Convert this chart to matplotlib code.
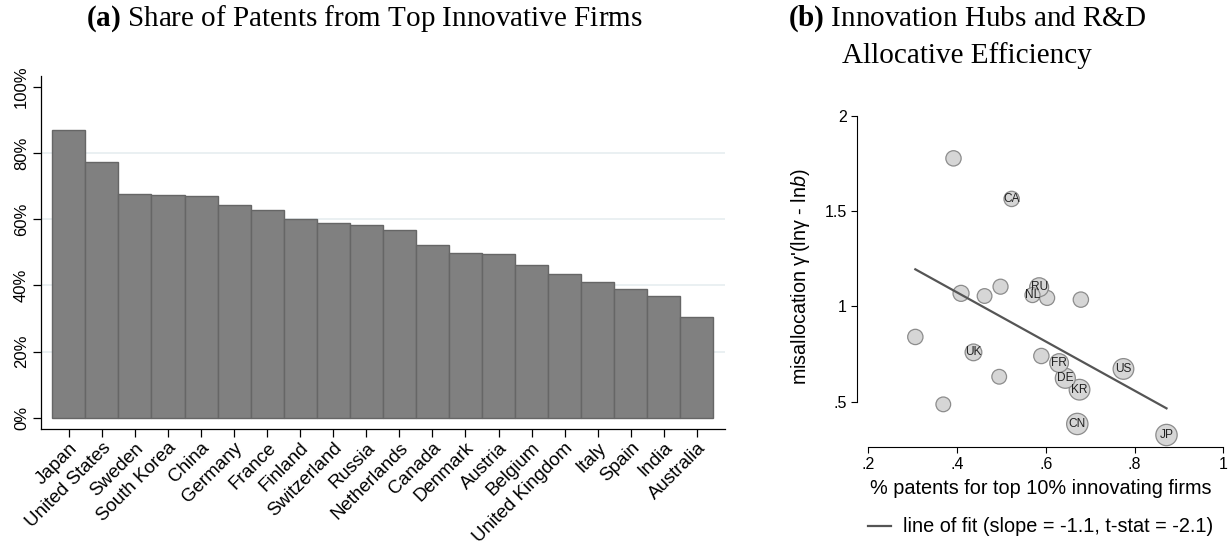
import matplotlib
matplotlib.use('Agg')
import matplotlib.pyplot as plt
import numpy as np

# ---------------- data ----------------
countries = ["Japan", "United States", "Sweden", "South Korea", "China", "Germany",
             "France", "Finland", "Switzerland", "Russia", "Netherlands", "Canada",
             "Denmark", "Austria", "Belgium", "United Kingdom", "Italy", "Spain",
             "India", "Australia"]
share_top = [0.871, 0.772, 0.677, 0.672, 0.669, 0.642, 0.627, 0.602, 0.588, 0.582,
             0.569, 0.521, 0.497, 0.494, 0.461, 0.435, 0.409, 0.390, 0.367, 0.304]

codes = ["JP", "US", "", "KR", "CN", "DE", "FR", "", "", "RU", "NL", "CA",
         "", "", "", "UK", "", "", "", ""]
scatter_x = [0.872, 0.775, 0.679, 0.676, 0.671, 0.644, 0.630, 0.603, 0.590, 0.585,
             0.570, 0.523, 0.498, 0.495, 0.462, 0.437, 0.409, 0.392, 0.369, 0.306]
misalloc = [0.324, 0.671, 1.035, 0.562, 0.382, 0.622, 0.702, 1.044, 0.739, 1.100,
            1.059, 1.564, 1.103, 0.630, 1.054, 0.758, 1.068, 1.777, 0.485, 0.839]
weights = [2.02, 1.90, 1.04, 1.90, 2.02, 1.78, 1.55, 1.00, 1.04, 1.60,
           1.00, 1.04, 1.00, 0.96, 0.96, 1.24, 1.14, 1.04, 0.96, 1.04]
fit_slope = -1.29
fit_intercept = 1.589

left_yticks = [0, 0.2, 0.4, 0.6, 0.8, 1.0]
left_yticklabels = ["0%", "20%", "40%", "60%", "80%", "100%"]
grid_levels = [0.2, 0.4, 0.6, 0.8]
right_xticks = [0.2, 0.4, 0.6, 0.8, 1.0]
right_xticklabels = [".2", ".4", ".6", ".8", "1"]
right_yticks = [0.5, 1.0, 1.5, 2.0]
right_yticklabels = [".5", "1", "1.5", "2"]

# ---------------- style ----------------
plt.rcParams['font.family'] = ['Liberation Sans', 'DejaVu Sans']
plt.rcParams['mathtext.fontset'] = 'custom'
plt.rcParams['mathtext.bf'] = 'Liberation Serif:bold'
plt.rcParams['mathtext.rm'] = 'Liberation Serif'
plt.rcParams['mathtext.it'] = 'Liberation Sans:italic'

W, H = 1231, 550
fig = plt.figure(figsize=(W / 100, H / 100), dpi=100)

def fx(px):
    return px / W

def fy(py):
    return 1 - py / H

TITLE_FS = 21

# ---------------- left panel ----------------
axL = fig.add_axes([fx(40.7), fy(429), fx(725) - fx(40.7), fy(76) - fy(429)])
xpos = np.arange(len(countries))
for g in grid_levels:
    axL.axhline(g, color='#e6eef0', lw=1.2, zorder=0)
axL.bar(xpos, share_top, width=1.0, color='#808080', edgecolor='#666666',
        linewidth=1.0, zorder=2)
axL.set_xlim(-0.85, len(countries) - 1 + 0.85)
axL.set_ylim(-0.034, 1.033)
axL.set_yticks(left_yticks)
axL.set_yticklabels(left_yticklabels, rotation=90, va='center', fontsize=12)
axL.set_xticks(xpos)
axL.set_xticklabels(countries, rotation=45, ha='right', rotation_mode='anchor',
                    fontsize=13.5)
for s in ['top', 'right']:
    axL.spines[s].set_visible(False)
for s in ['left', 'bottom']:
    axL.spines[s].set_linewidth(0.9)
axL.tick_params(axis='both', length=5.5, width=0.9, color='black')
axL.tick_params(axis='y', pad=3)
axL.tick_params(axis='x', pad=2)

fig.text(fx(364), fy(26), r"$\mathbf{(a)}$ Share of Patents from Top Innovative Firms",
         ha='center', va='baseline', fontsize=TITLE_FS, family='Liberation Serif')

# ---------------- right panel ----------------
xl0, xl1 = 0.175, 1.0
yl0, yl1 = 0.263, 2.047
x0px = 868.3 + (xl0 - 0.2) * 443.75
x1px = 868.3 + (xl1 - 0.2) * 443.75
y0px = 306.3 - (yl0 - 1) * 190.4
y1px = 306.3 - (yl1 - 1) * 190.4
axR = fig.add_axes([fx(x0px), fy(y0px), fx(x1px) - fx(x0px), fy(y1px) - fy(y0px)])
axR.set_xlim(xl0, xl1)
axR.set_ylim(yl0, yl1)

sizes = [(15 * 0.72) ** 2 * w for w in weights]
axR.scatter(scatter_x, misalloc, s=sizes, facecolor='#d6d6d6', edgecolor='#8c8c8c',
            linewidth=0.9, zorder=2)
for xv, yv, c in zip(scatter_x, misalloc, codes):
    if c:
        axR.text(xv, yv, c, ha='center', va='center', fontsize=8.6, color='#222222',
                 zorder=3)

xfit = np.array([min(scatter_x), max(scatter_x)])
line, = axR.plot(xfit, fit_intercept + fit_slope * xfit, color='#555555', lw=1.6,
                 zorder=4, label="line of fit (slope = -1.1, t-stat = -2.1)")

axR.set_xticks(right_xticks)
axR.set_xticklabels(right_xticklabels, fontsize=11.5)
axR.set_yticks(right_yticks)
axR.set_yticklabels(right_yticklabels, fontsize=11.5)
for s in ['top', 'right']:
    axR.spines[s].set_visible(False)
axR.spines['left'].set_bounds(0.5, 2.0)
axR.spines['bottom'].set_bounds(0.2, 1.0)
for s in ['left', 'bottom']:
    axR.spines[s].set_linewidth(0.8)
axR.tick_params(axis='both', length=4, width=0.8, color='black')
axR.set_xlabel("% patents for top 10% innovating firms", fontsize=14.3)
axR.set_ylabel(r"misallocation γ'(lnγ - ln$b$)", fontsize=14.2)
axw = x1px - x0px
axh = y0px - y1px
axR.xaxis.set_label_coords(0.5, (y0px - 479.5) / axh)
axR.yaxis.set_label_coords((812.5 - x0px) / axw, 0.5)

fig.legend(handles=[line], loc='center left', bbox_to_anchor=(fx(868), fy(527)),
           frameon=False, fontsize=14.3, handlelength=1.15, handletextpad=0.6,
           borderpad=0, borderaxespad=0)

fig.text(fx(967), fy(26), r"$\mathbf{(b)}$ Innovation Hubs and R&D",
         ha='center', va='baseline', fontsize=TITLE_FS, family='Liberation Serif')
fig.text(fx(967), fy(62.7), "Allocative Efficiency",
         ha='center', va='baseline', fontsize=TITLE_FS, family='Liberation Serif')

fig.savefig('out.png', dpi=100)
